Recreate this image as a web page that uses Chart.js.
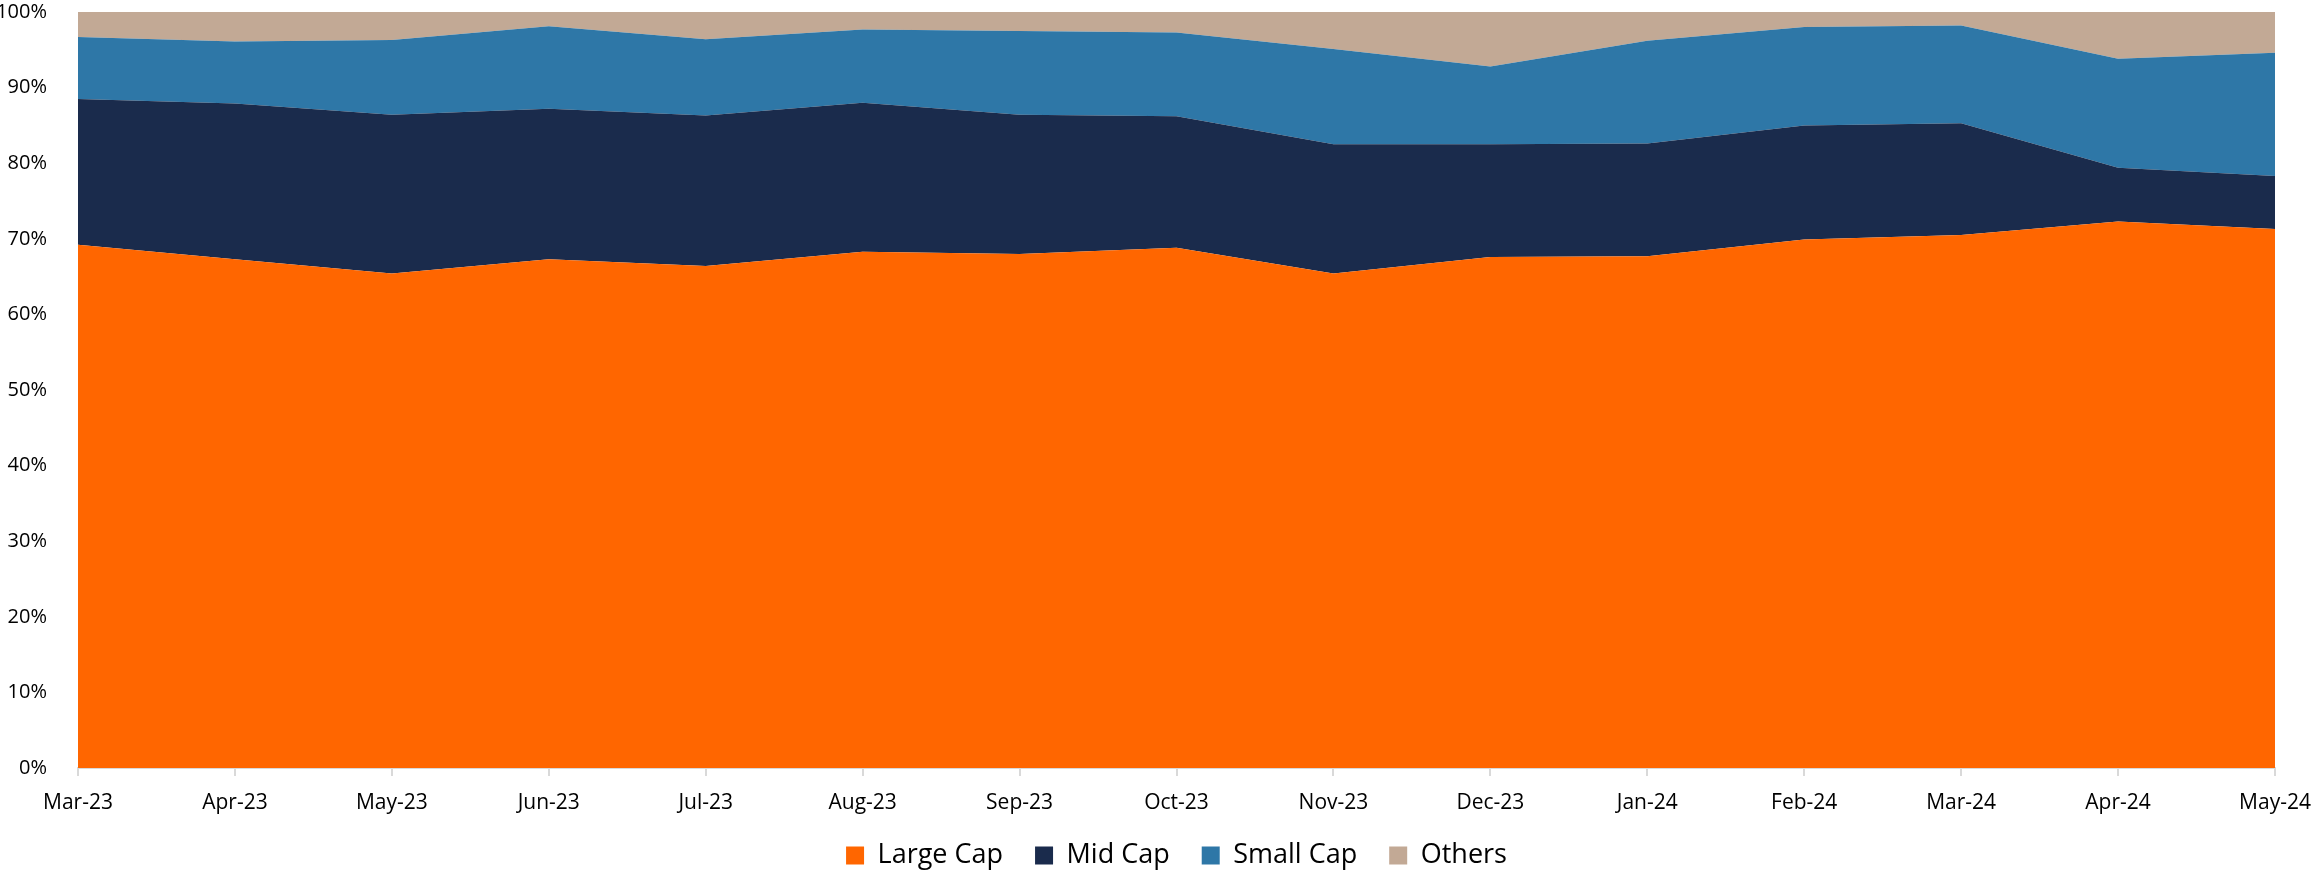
<!DOCTYPE html>
<html>
<head>
<meta charset="utf-8">
<script src="https://cdn.jsdelivr.net/npm/chart.js@4"></script>
<style>
  html, body { margin:0; padding:0; background:#fff; }
  #wrap { width:2315px; height:875px; position:relative; }
</style>
</head>
<body>
<div id="wrap"><canvas id="chart"></canvas></div>
<script>
// -------- DATA (share of portfolio, %) --------
const months   = ["Mar-23","Apr-23","May-23","Jun-23","Jul-23","Aug-23","Sep-23","Oct-23","Nov-23","Dec-23","Jan-24","Feb-24","Mar-24","Apr-24","May-24"];
const largeCap = [69.2, 67.3, 65.4, 67.3, 66.4, 68.3, 68.0, 68.8, 65.4, 67.6, 67.7, 69.9, 70.5, 72.3, 71.3];
const midCap   = [19.3, 20.6, 21.0, 19.9, 19.9, 19.7, 18.4, 17.4, 17.1, 14.9, 14.9, 15.1, 14.8,  7.1,  7.0];
const smallCap = [ 8.2,  8.2,  9.9, 10.9, 10.1,  9.7, 11.1, 11.1, 12.6, 10.3, 13.6, 13.0, 12.9, 14.4, 16.3];
const others   = [ 3.3,  3.9,  3.7,  1.9,  3.6,  2.3,  2.5,  2.7,  4.9,  7.2,  3.8,  2.0,  1.8,  6.2,  5.4];
const yTicks   = [0,10,20,30,40,50,60,70,80,90,100];

const FONT = "'Open Sans', 'DejaVu Sans', sans-serif";

function area(label, data, color, fill){
  return {
    label, data, fill,
    backgroundColor: color,
    borderColor: color,
    borderWidth: 0,
    pointRadius: 0,
    tension: 0
  };
}

new Chart(document.getElementById("chart"), {
  type: "line",
  data: {
    labels: months,
    datasets: [
      area("Large Cap", largeCap, "#FF6600", "origin"),
      area("Mid Cap",   midCap,   "#1A2B4C", "-1"),
      area("Small Cap", smallCap, "#2E77A7", "-1"),
      area("Others",    others,   "#C2A995", "-1")
    ]
  },
  options: {
    responsive: true,
    maintainAspectRatio: false,
    animation: false,
    layout: { padding: { top: 12, right: 40, bottom: -4, left: 0 } },
    plugins: {
      tooltip: { enabled: false },
      legend: {
        position: "bottom",
        fullSize: false,
        labels: {
          boxWidth: 18, boxHeight: 18, padding: 32,
          color: "#000",
          font: { family: FONT, size: 27 }
        }
      }
    },
    scales: {
      x: {
        offset: false,
        grid: { display: true, drawOnChartArea: false, drawTicks: true, tickLength: 8, color: "#D9D9D9", lineWidth: 2 },
        border: { display: true, color: "#D9D9D9", width: 2 },
        ticks: { color: "#000", padding: 14, maxRotation: 0, autoSkip: false, font: { family: FONT, size: 21 } },
        afterFit: s => {
          s.height = 42; s.paddingLeft = 0; s.paddingRight = 0;
          // let the month labels hang below the axis box instead of being clipped
          s._computeLabelArea = () => undefined;
        }
      },
      y: {
        stacked: true,
        min: 0, max: 100,
        grid: { display: false },
        border: { display: false },
        afterBuildTicks: s => { s.ticks = yTicks.map(v => ({ value: v })); },
        ticks: { color: "#000", padding: 23, font: { family: FONT, size: 20 }, callback: v => v + "%" },
        afterFit: s => { s.width = 78; s.paddingTop = 0; s.paddingBottom = 0; }
      }
    }
  }
});
</script>
</body>
</html>
